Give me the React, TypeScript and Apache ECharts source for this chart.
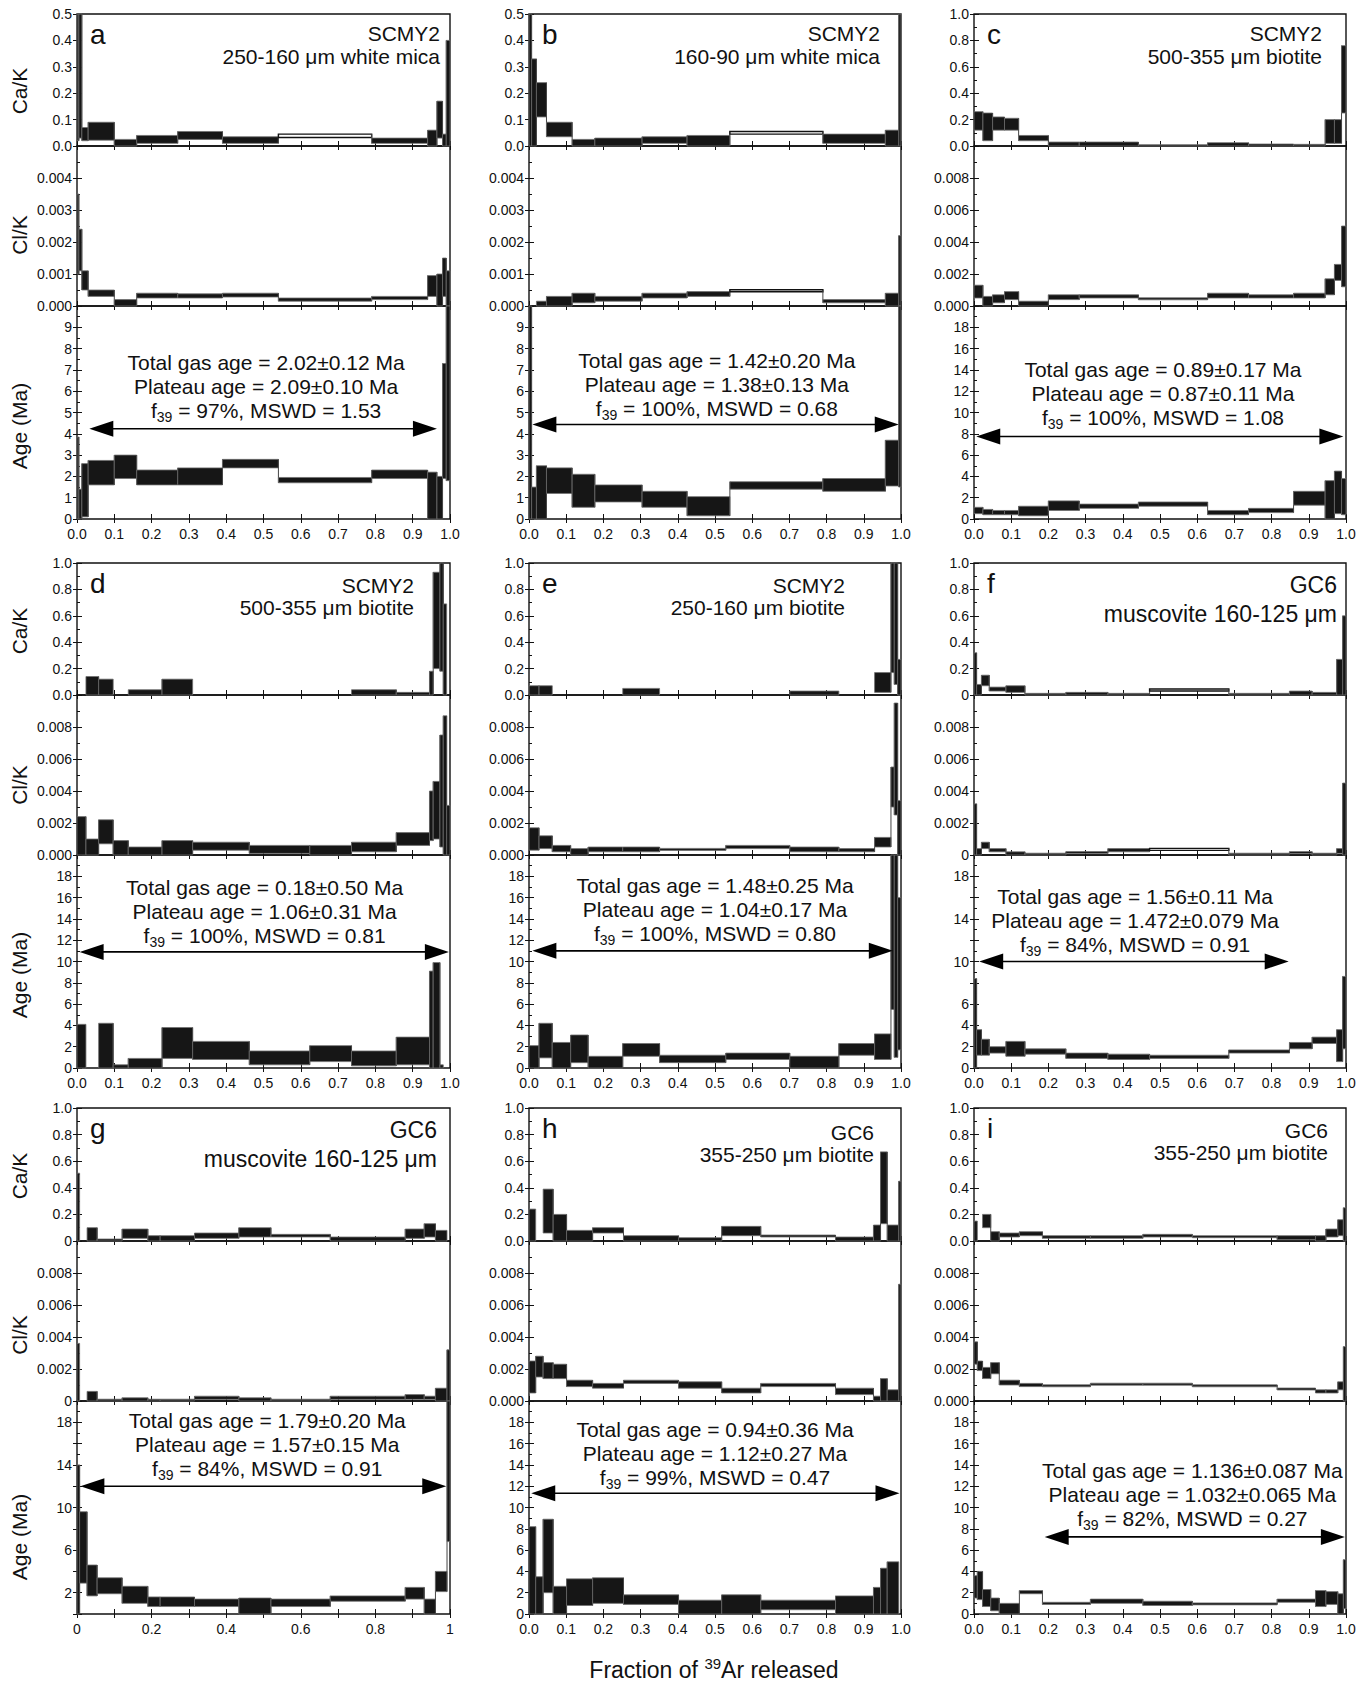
import React, { useEffect, useRef } from "react";
import * as echarts from "echarts";

type Box = [number, number] | null;

const FONT = "'Liberation Sans', Arial, Helvetica, sans-serif";

// ---------- Panel a ----------
const aFrac = [0, 0.005, 0.013, 0.03, 0.1, 0.16, 0.27, 0.39, 0.54, 0.79, 0.94, 0.965, 0.98, 0.99, 1.0];
const aCaK: Box[] = [[0.02, 0.55], [0.03, 0.55], [0.02, 0.07], [0.022, 0.09], [0, 0.025], [0.01, 0.04], [0.025, 0.055], [0.01, 0.035], [0.032, 0.045], [0.01, 0.03], [0, 0.06], [0.03, 0.17], [0, 0.045], [0, 0.4]];
const aClK: Box[] = [[0.001, 0.0035], [0.0011, 0.0024], [0.0005, 0.0011], [0.0003, 0.0005], [0, 0.0002], [0.00025, 0.0004], [0.00025, 0.00038], [0.00028, 0.0004], [0.00015, 0.00025], [0.0002, 0.0003], [0.0003, 0.00095], [0, 0.001], [0.0003, 0.0015], [0, 0.0011]];
const aAge: Box[] = [[0, 3.85], [0, 1.4], [0.1, 2.6], [1.6, 2.75], [1.9, 3.0], [1.6, 2.3], [1.6, 2.4], [2.4, 2.8], [1.7, 1.95], [1.9, 2.3], [0, 2.2], [0, 2.0], [1.9, 7.3], [1.8, 10.5]];
const aPlateau = [0.033, 0.965, 4.24];
const aSample = ["SCMY2", "250-160 μm white mica"];
const aStats = ["Total gas age = 2.02±0.12 Ma", "Plateau age = 2.09±0.10 Ma", " = 97%, MSWD = 1.53"];

// ---------- Panel b ----------
const bFrac = [0, 0.007, 0.02, 0.047, 0.116, 0.177, 0.304, 0.425, 0.54, 0.79, 0.958, 0.994, 1.0];
const bCaK: Box[] = [[0, 0.55], [0, 0.33], [0.11, 0.24], [0.035, 0.09], [0, 0.025], [0, 0.03], [0.01, 0.035], [0, 0.04], [0.045, 0.055], [0.01, 0.045], [0, 0.06], [0, 0.55]];
const bClK: Box[] = [null, null, [0, 0.00015], [0, 0.0003], [0.0001, 0.0004], [0.00015, 0.0003], [0.00025, 0.0004], [0.0003, 0.00045], [0.00045, 0.0005], [0.0001, 0.0002], [0, 0.0004], [0, 0.0022]];
const bAge: Box[] = [[0, 10.5], [0, 1.5], [0, 2.5], [1.2, 2.4], [0.55, 2.1], [0.8, 1.6], [0.55, 1.3], [0.15, 1.05], [1.4, 1.75], [1.3, 1.9], [1.55, 3.7], [1.5, 10.5]];
const bPlateau = [0.009, 0.994, 4.44];
const bSample = ["SCMY2", "160-90 μm white mica"];
const bStats = ["Total gas age = 1.42±0.20 Ma", "Plateau age = 1.38±0.13 Ma", " = 100%, MSWD = 0.68"];

// ---------- Panel c ----------
const cFrac = [0, 0.024, 0.05, 0.082, 0.12, 0.2, 0.283, 0.442, 0.628, 0.738, 0.859, 0.944, 0.969, 0.988, 1.0];
const cCaK: Box[] = [[0.12, 0.26], [0.04, 0.25], [0.12, 0.22], [0.12, 0.21], [0.04, 0.08], [0, 0.03], [0, 0.03], [0, 0.005], [0, 0.025], [0, 0.015], [0, 0.01], [0.02, 0.2], [0.02, 0.2], [0.25, 0.76]];
const cClK: Box[] = [[0.0005, 0.0013], [0, 0.0006], [0.0002, 0.0007], [0.0004, 0.0009], [0, 0.0003], [0.0004, 0.0007], [0.0005, 0.0007], [0.0004, 0.0005], [0.0005, 0.0008], [0.0005, 0.0007], [0.0005, 0.0008], [0.0007, 0.0017], [0.0016, 0.0026], [0.0012, 0.005]];
const cAge: Box[] = [[0.5, 1.1], [0.4, 0.9], [0.4, 0.8], [0.4, 0.8], [0.3, 1.2], [0.8, 1.7], [1.0, 1.4], [1.2, 1.6], [0.4, 0.8], [0.6, 1.0], [1.3, 2.6], [0, 3.6], [0.5, 4.5], [0.4, 3.8]];
const cPlateau = [0.006, 0.993, 7.74];
const cSample = ["SCMY2", "500-355 μm biotite"];
const cStats = ["Total gas age = 0.89±0.17 Ma", "Plateau age = 0.87±0.11 Ma", " = 100%, MSWD = 1.08"];

// ---------- Panel d ----------
const dFrac = [0, 0.024, 0.058, 0.097, 0.1375, 0.228, 0.31, 0.462, 0.624, 0.736, 0.856, 0.945, 0.955, 0.973, 0.982, 0.991, 1.0];
const dCaK: Box[] = [null, [0, 0.14], [0, 0.12], null, [0, 0.04], [0, 0.12], null, null, null, [0, 0.04], [0, 0.02], [0, 0.18], [0.2, 0.93], [0.18, 1.05], [0, 0.69], null];
const dClK: Box[] = [[0, 0.0024], [0, 0.001], [0.0007, 0.0022], [0, 0.0009], [0, 0.0005], [0, 0.0009], [0.0003, 0.0008], [0.0001, 0.0006], [0, 0.0006], [0.0002, 0.0008], [0.0006, 0.0014], [0.0009, 0.004], [0.001, 0.0046], [0.0005, 0.0075], [0, 0.0087], [0, 0.0031]];
const dAge: Box[] = [[0, 4.1], null, [0, 4.2], [0, 0.3], [0, 0.9], [0.9, 3.8], [0.8, 2.5], [0.3, 1.6], [0.6, 2.1], [0.2, 1.6], [0.3, 2.9], [0, 9.1], [0, 9.9], [0, 0.3], null, null];
const dPlateau = [0.007, 0.997, 10.9];
const dSample = ["SCMY2", "500-355 μm biotite"];
const dStats = ["Total gas age = 0.18±0.50 Ma", "Plateau age = 1.06±0.31 Ma", " = 100%, MSWD = 0.81"];

// ---------- Panel e ----------
const eFrac = [0, 0.027, 0.0625, 0.112, 0.159, 0.252, 0.351, 0.529, 0.701, 0.833, 0.929, 0.973, 0.982, 0.991, 1.0];
const eCaK: Box[] = [[0, 0.07], [0, 0.07], null, null, null, [0, 0.05], null, null, [0, 0.03], null, [0.02, 0.17], [0.17, 1.05], [0.08, 1.05], [0, 0.27]];
const eClK: Box[] = [[0.0003, 0.0017], [0.0004, 0.0012], [0.0002, 0.0006], [0, 0.0004], [0.0002, 0.0005], [0.0002, 0.0005], [0.0003, 0.0004], [0.0004, 0.0006], [0.0002, 0.0005], [0.0002, 0.0004], [0.0005, 0.0011], [0.003, 0.0055], [0.0025, 0.0095], [0, 0.0034]];
const eAge: Box[] = [[0, 2.1], [0.95, 4.2], [0, 2.4], [0.5, 3.1], [0, 1.1], [1.1, 2.3], [0.5, 1.2], [0.8, 1.4], [0, 1.1], [1.2, 2.3], [0.8, 3.2], [5.5, 21], [1.0, 21], [1.7, 16]];
const ePlateau = [0.009, 0.978, 11.0];
const eSample = ["SCMY2", "250-160 μm biotite"];
const eStats = ["Total gas age = 1.48±0.25 Ma", "Plateau age = 1.04±0.17 Ma", " = 100%, MSWD = 0.80"];

// ---------- Panel f ----------
const fFrac = [0, 0.007, 0.02, 0.041, 0.086, 0.137, 0.247, 0.36, 0.472, 0.685, 0.848, 0.909, 0.975, 0.991, 1.0];
const fCaK: Box[] = [[0, 0.32], [0, 0.08], [0.07, 0.15], [0.03, 0.06], [0.02, 0.07], [0, 0.01], [0, 0.02], [0, 0.01], [0.03, 0.045], [0, 0.01], [0, 0.03], [0, 0.02], [0, 0.27], [0, 0.6]];
const fClK: Box[] = [[0, 0.0032], [0, 0.0004], [0.0004, 0.0008], [0.0002, 0.0004], [0, 0.0002], [0, 0.0001], [0.0001, 0.0002], [0.0002, 0.0004], [0.0003, 0.0004], [0, 0.0001], [0.0001, 0.0002], [0, 0.0001], [0.0001, 0.0004], [0, 0.0045]];
const fAge: Box[] = [[0, 8.4], [1.2, 3.6], [1.2, 2.7], [1.4, 2.0], [1.1, 2.5], [1.3, 1.8], [0.9, 1.4], [0.8, 1.3], [0.9, 1.2], [1.4, 1.7], [1.8, 2.4], [2.3, 2.9], [0.6, 3.6], [1.8, 8.6]];
const fPlateau = [0.014, 0.846, 10];
const fSample = ["GC6", "muscovite 160-125 μm"];
const fStats = ["Total gas age = 1.56±0.11 Ma", "Plateau age = 1.472±0.079 Ma", " = 84%, MSWD = 0.91"];

// ---------- Panel g ----------
const gFrac = [0, 0.007, 0.027, 0.054, 0.121, 0.19, 0.223, 0.315, 0.434, 0.52, 0.679, 0.88, 0.931, 0.961, 0.992, 1.0];
const gCaK: Box[] = [[0, 0.51], null, [0, 0.1], [0, 0.015], [0.02, 0.09], [0, 0.04], [0, 0.04], [0.02, 0.06], [0.03, 0.1], [0.03, 0.05], [0, 0.03], [0.02, 0.09], [0.03, 0.13], [0, 0.08], null];
const gClK: Box[] = [[0, 0.0036], null, [0, 0.0006], [0, 0.0001], [0, 0.0002], [0, 0.0001], [0, 0.0001], [0.0001, 0.0003], [0, 0.0002], [0, 0.0001], [0.0001, 0.0003], [0.0001, 0.0004], [0.0001, 0.0003], [0, 0.0008], [0, 0.0032]];
const gAge: Box[] = [[0, 14], [2.9, 9.6], [1.7, 4.6], [1.9, 3.4], [1.0, 2.6], [0.7, 1.6], [0.7, 1.6], [0.7, 1.4], [0, 1.5], [0.7, 1.4], [1.2, 1.7], [1.4, 2.5], [0, 1.4], [2.1, 4.0], [6.8, 21]];
const gPlateau = [0.009, 0.99, 12];
const gSample = ["GC6", "muscovite 160-125 μm"];
const gStats = ["Total gas age = 1.79±0.20 Ma", "Plateau age = 1.57±0.15 Ma", " = 84%, MSWD = 0.91"];

// ---------- Panel h ----------
const hFrac = [0, 0.018, 0.038, 0.065, 0.101, 0.171, 0.254, 0.402, 0.518, 0.623, 0.824, 0.926, 0.945, 0.963, 0.994, 1.0];
const hCaK: Box[] = [[0, 0.24], null, [0.06, 0.39], [0, 0.2], [0, 0.08], [0.06, 0.1], [0, 0.04], [0, 0.025], [0.04, 0.11], [0.03, 0.045], [0, 0.03], [0, 0.12], [0.13, 0.67], [0, 0.12], [0, 0.45]];
const hClK: Box[] = [[0.0005, 0.0025], [0.0015, 0.0028], [0.0014, 0.0024], [0.0014, 0.0023], [0.0009, 0.0013], [0.0008, 0.0011], [0.0011, 0.0013], [0.0008, 0.0012], [0.0005, 0.0008], [0.0009, 0.0011], [0.0004, 0.0008], [0, 0.0003], [0, 0.0014], [0, 0.0007], [0, 0.0073]];
const hAge: Box[] = [[0, 8.2], [0, 3.5], [2.0, 8.9], [0, 2.6], [0.8, 3.3], [1.0, 3.4], [0.9, 1.8], [0, 1.3], [0, 1.8], [0.4, 1.3], [0, 1.7], [0, 2.5], [0, 4.3], [0, 4.9], null];
const hPlateau = [0.006, 0.996, 11.34];
const hSample = ["GC6", "355-250 μm biotite"];
const hStats = ["Total gas age = 0.94±0.36 Ma", "Plateau age = 1.12±0.27 Ma", " = 99%, MSWD = 0.47"];

// ---------- Panel i ----------
const iFrac = [0, 0.009, 0.023, 0.045, 0.068, 0.122, 0.184, 0.313, 0.454, 0.587, 0.815, 0.918, 0.946, 0.978, 0.993, 1.0];
const iCaK: Box[] = [[0, 0.15], null, [0.1, 0.2], [0, 0.07], [0.03, 0.06], [0.04, 0.07], [0.02, 0.04], [0.02, 0.04], [0.03, 0.05], [0.03, 0.035], [0.01, 0.04], [0, 0.04], [0.03, 0.09], [0.04, 0.16], [0, 0.25]];
const iClK: Box[] = [[0.0023, 0.0037], [0.0019, 0.0025], [0.0014, 0.0021], [0.0017, 0.0024], [0.001, 0.0013], [0.0009, 0.0011], [0.0009, 0.001], [0.001, 0.0011], [0.001, 0.0011], [0.0009, 0.001], [0.0007, 0.0008], [0.0005, 0.0007], [0.0005, 0.0007], [0.0007, 0.0012], [0, 0.0034]];
const iAge: Box[] = [[1.5, 3.6], [1.35, 4.0], [0.7, 2.3], [0.3, 1.5], [0, 1.0], [1.9, 2.2], [0.9, 1.1], [1.0, 1.4], [0.8, 1.2], [0.9, 1.0], [1.1, 1.4], [0.7, 2.2], [0.9, 2.1], [0, 1.9], [0.5, 5.1]];
const iPlateau = [0.19, 0.997, 7.24];
const iSample = ["GC6", "355-250 μm biotite"];
const iStats = ["Total gas age = 1.136±0.087 Ma", "Plateau age = 1.032±0.065 Ma", " = 82%, MSWD = 0.27"];

// ---------- axis specs ----------
const EPS = 1e-9;
const CAK05 = { max: 0.5, step: 0.1, fmt: (v: number) => v.toFixed(1) };
const CAK1 = { max: 1, step: 0.2, fmt: (v: number) => v.toFixed(1) };
const CAK1z = { max: 1, step: 0.2, fmt: (v: number) => (v < EPS ? "0" : v.toFixed(1)) };
const CLK005 = { max: 0.005, step: 0.001, fmt: (v: number) => (v > 0.005 - EPS ? "" : v.toFixed(3)) };
const CLK01 = { max: 0.01, step: 0.002, fmt: (v: number) => (v > 0.01 - EPS ? "" : v.toFixed(3)) };
const CLK01z = { max: 0.01, step: 0.002, fmt: (v: number) => (v > 0.01 - EPS ? "" : v < EPS ? "0" : v.toFixed(3)) };
const AGE10 = { max: 10, step: 1, fmt: (v: number) => (v > 9.5 ? "" : String(Math.round(v))) };
const AGE20 = { max: 20, step: 2, fmt: (v: number) => (v > 19 ? "" : String(Math.round(v))) };
const AGEf = { max: 20, step: 2, fmt: (v: number) => ([0, 2, 4, 6, 10, 14, 18].includes(Math.round(v)) ? String(Math.round(v)) : "") };
const AGEg = { max: 20, step: 2, fmt: (v: number) => ([2, 6, 10, 14, 18].includes(Math.round(v)) ? String(Math.round(v)) : "") };
const fmtX = (v: number) => v.toFixed(1);
const fmtXg = (v: number) => {
  const r = Math.round(v * 10);
  if (r % 2) return "";
  if (r === 0) return "0";
  if (r === 10) return "1";
  return (r / 10).toFixed(1);
};

// ---------- layout ----------
const COLS = [[77, 450], [529, 901], [974, 1346]];
const ROWS = [[14, 146, 306, 519], [563, 695, 855, 1068], [1108, 1241, 1401, 1614]];
const NAME_Y = [[91, 235, 426], [631, 785, 975], [1176, 1335, 1537]];

const PANELS = [
  { key: "a", row: 0, col: 0, frac: aFrac, cak: aCaK, clk: aClK, age: aAge, plateau: aPlateau, sample: aSample, stats: aStats, cakOpen: [8], clkOpen: [], cakAx: CAK05, clkAx: CLK005, ageAx: AGE10, xFmt: fmtX, inset: 10, sdy: [19, 42], sfs: 21, sx: 0.507, sdy0: 56 },
  { key: "b", row: 0, col: 1, frac: bFrac, cak: bCaK, clk: bClK, age: bAge, plateau: bPlateau, sample: bSample, stats: bStats, cakOpen: [8], clkOpen: [8], cakAx: CAK05, clkAx: CLK005, ageAx: AGE10, xFmt: fmtX, inset: 21, sdy: [19, 42], sfs: 21, sx: 0.505, sdy0: 54 },
  { key: "c", row: 0, col: 2, frac: cFrac, cak: cCaK, clk: cClK, age: cAge, plateau: cPlateau, sample: cSample, stats: cStats, cakOpen: [], clkOpen: [], cakAx: CAK1, clkAx: CLK01, ageAx: AGE20, xFmt: fmtX, inset: 24, sdy: [19, 42], sfs: 21, sx: 0.508, sdy0: 63 },
  { key: "d", row: 1, col: 0, frac: dFrac, cak: dCaK, clk: dClK, age: dAge, plateau: dPlateau, sample: dSample, stats: dStats, cakOpen: [], clkOpen: [], cakAx: CAK1, clkAx: CLK01, ageAx: AGE20, xFmt: fmtX, inset: 36, sdy: [22, 44], sfs: 21, sx: 0.503, sdy0: 32 },
  { key: "e", row: 1, col: 1, frac: eFrac, cak: eCaK, clk: eClK, age: eAge, plateau: ePlateau, sample: eSample, stats: eStats, cakOpen: [], clkOpen: [], cakAx: CAK1, clkAx: CLK01, ageAx: AGE20, xFmt: fmtX, inset: 56, sdy: [22, 44], sfs: 21, sx: 0.5, sdy0: 30 },
  { key: "f", row: 1, col: 2, frac: fFrac, cak: fCaK, clk: fClK, age: fAge, plateau: fPlateau, sample: fSample, stats: fStats, cakOpen: [8], clkOpen: [8], cakAx: CAK1z, clkAx: CLK01z, ageAx: AGEf, xFmt: fmtX, inset: 9, sdy: [22, 51], sfs: 23, sx: 0.433, sdy0: 41 },
  { key: "g", row: 2, col: 0, frac: gFrac, cak: gCaK, clk: gClK, age: gAge, plateau: gPlateau, sample: gSample, stats: gStats, cakOpen: [], clkOpen: [], cakAx: CAK1z, clkAx: CLK01z, ageAx: AGEg, xFmt: fmtXg, inset: 13, sdy: [22, 51], sfs: 23, sx: 0.51, sdy0: 19 },
  { key: "h", row: 2, col: 1, frac: hFrac, cak: hCaK, clk: hClK, age: hAge, plateau: hPlateau, sample: hSample, stats: hStats, cakOpen: [], clkOpen: [], cakAx: CAK1, clkAx: CLK01, ageAx: AGE20, xFmt: fmtX, inset: 27, sdy: [24, 46], sfs: 21, sx: 0.5, sdy0: 28 },
  { key: "i", row: 2, col: 2, frac: iFrac, cak: iCaK, clk: iClK, age: iAge, plateau: iPlateau, sample: iSample, stats: iStats, cakOpen: [], clkOpen: [], cakAx: CAK1, clkAx: CLK01, ageAx: AGE20, xFmt: fmtX, inset: 18, sdy: [22, 44], sfs: 21, sx: 0.587, sdy0: 69 },
];

const tickStyle = { color: "#111", width: 1 };
const LABEL_SIZE = 14;

function makeBoxSeries(axisIndex: number, frac: number[], vals: Box[], openIdx: number[]) {
  const items: any[] = [];
  vals.forEach((v, i) => {
    if (!v) return;
    const pv = i > 0 ? vals[i - 1] : null;
    items.push({ x0: frac[i], x1: frac[i + 1], lo: v[0], hi: v[1], open: openIdx.includes(i), plo: pv ? pv[0] : null, phi: pv ? pv[1] : null });
  });
  return {
    type: "custom",
    xAxisIndex: axisIndex,
    yAxisIndex: axisIndex,
    silent: true,
    z: 2,
    data: items.map((it) => [it.x0, it.x1, it.lo, it.hi]),
    encode: { x: [0, 1], y: [2, 3] },
    renderItem: (params: any, api: any) => {
      const it = items[params.dataIndex];
      const cs = params.coordSys;
      const tl = api.coord([api.value(0), api.value(3)]);
      const br = api.coord([api.value(1), api.value(2)]);
      const rect = { x: tl[0], y: tl[1], width: br[0] - tl[0], height: br[1] - tl[1] };
      if (rect.height < 2) {
        rect.y -= (2 - rect.height) / 2;
        rect.height = 2;
      }
      const clipped = echarts.graphic.clipRectByRect(rect, { x: cs.x, y: cs.y, width: cs.width, height: cs.height });
      const children: any[] = [];
      if (it.plo !== null) {
        const a = api.coord([it.x0, Math.min(it.lo, it.plo)]);
        const b = api.coord([it.x0, Math.max(it.hi, it.phi)]);
        const y1 = Math.min(Math.max(b[1], cs.y), cs.y + cs.height);
        const y2 = Math.min(Math.max(a[1], cs.y), cs.y + cs.height);
        children.push({ type: "line", shape: { x1: a[0], y1, x2: a[0], y2 }, style: { stroke: "#444", lineWidth: 1 } });
      }
      if (clipped) {
        children.push({
          type: "rect",
          shape: clipped,
          style: it.open ? { fill: "#ffffff", stroke: "#111", lineWidth: 1.4 } : { fill: "#161616", stroke: "#6e6e6e", lineWidth: 0.8 },
        });
      }
      return { type: "group", children };
    },
  };
}

function makeArrowSeries(axisIndex: number, pl: number[]) {
  return {
    type: "custom",
    xAxisIndex: axisIndex,
    yAxisIndex: axisIndex,
    silent: true,
    z: 3,
    data: [pl],
    encode: { x: [0, 1], y: [2] },
    renderItem: (params: any, api: any) => {
      const a = api.coord([api.value(0), api.value(2)]);
      const b = api.coord([api.value(1), api.value(2)]);
      const L = 24;
      const H = 8;
      return {
        type: "group",
        children: [
          { type: "line", shape: { x1: a[0] + L - 1, y1: a[1], x2: b[0] - L + 1, y2: b[1] }, style: { stroke: "#000", lineWidth: 1.6 } },
          { type: "polygon", shape: { points: [[a[0], a[1]], [a[0] + L, a[1] - H], [a[0] + L, a[1] + H]] }, style: { fill: "#000" } },
          { type: "polygon", shape: { points: [[b[0], b[1]], [b[0] - L, b[1] - H], [b[0] - L, b[1] + H]] }, style: { fill: "#000" } },
        ],
      };
    },
  };
}

function textEl(x: number, y: number, text: string, size: number, align: string, extra: any = {}) {
  return {
    type: "text",
    x,
    y,
    silent: true,
    z: 10,
    ...extra.el,
    style: {
      text,
      fontSize: size,
      fontFamily: FONT,
      fill: "#111",
      align,
      verticalAlign: "middle",
      textAlign: align,
      textVerticalAlign: "middle",
      ...(extra.style || {}),
    },
  };
}

function buildOption() {
  const grids: any[] = [];
  const xAxes: any[] = [];
  const yAxes: any[] = [];
  const series: any[] = [];
  const graphics: any[] = [];

  PANELS.forEach((p) => {
    const [L, R] = COLS[p.col];
    const [T, B1, B2, B] = ROWS[p.row];
    const subs = [
      { top: T, bot: B1, vals: p.cak, open: p.cakOpen, ax: p.cakAx, isAge: false },
      { top: B1, bot: B2, vals: p.clk, open: p.clkOpen, ax: p.clkAx, isAge: false },
      { top: B2, bot: B, vals: p.age, open: [], ax: p.ageAx, isAge: true },
    ];
    subs.forEach((s) => {
      const gi = grids.length;
      grids.push({
        left: L,
        top: s.top,
        width: R - L,
        height: s.bot - s.top,
        show: true,
        borderColor: "#111",
        borderWidth: 1.4,
        backgroundColor: "transparent",
        outerBoundsMode: "none",
      });
      xAxes.push({
        type: "value",
        gridIndex: gi,
        position: "bottom",
        min: 0,
        max: 1,
        interval: 0.1,
        axisLine: { show: false },
        splitLine: { show: false },
        axisTick: { show: true, inside: true, length: 5, lineStyle: tickStyle },
        axisLabel: { show: s.isAge, formatter: p.xFmt, fontSize: LABEL_SIZE, fontFamily: FONT, color: "#111", margin: 8, hideOverlap: false, showMinLabel: true, showMaxLabel: true },
      });
      xAxes.push({
        type: "value",
        gridIndex: gi,
        position: "top",
        min: 0,
        max: 1,
        interval: 0.1,
        axisLine: { show: false },
        splitLine: { show: false },
        axisTick: { show: true, inside: true, length: 4, lineStyle: tickStyle },
        axisLabel: { show: false },
      });
      yAxes.push({
        type: "value",
        gridIndex: gi,
        position: "left",
        min: 0,
        max: s.ax.max,
        interval: s.ax.step,
        axisLine: { show: false },
        splitLine: { show: false },
        axisTick: { show: true, inside: true, length: 5, lineStyle: tickStyle },
        minorTick: { show: true, splitNumber: 2, length: 3, lineStyle: tickStyle },
        axisLabel: { formatter: s.ax.fmt, fontSize: LABEL_SIZE, fontFamily: FONT, color: "#111", margin: 5, hideOverlap: false, showMinLabel: true, showMaxLabel: true },
      });
      yAxes.push({
        type: "value",
        gridIndex: gi,
        position: "right",
        min: 0,
        max: s.ax.max,
        interval: s.ax.step,
        axisLine: { show: false },
        splitLine: { show: false },
        axisTick: { show: true, inside: true, length: 4, lineStyle: tickStyle },
        axisLabel: { show: false },
      });
      series.push(makeBoxSeries(2 * gi, p.frac, s.vals, s.open));
      if (s.isAge) series.push(makeArrowSeries(2 * gi, p.plateau));
    });

    // panel letter
    graphics.push(textEl(L + 13, T + 20, p.key, 28, "left"));
    // sample lines
    graphics.push(textEl(R - p.inset, T + p.sdy[0], p.sample[0], p.sfs, "right"));
    graphics.push(textEl(R - p.inset, T + p.sdy[1], p.sample[1], p.sfs, "right"));
    // stats
    const cx = L + p.sx * (R - L);
    const y0 = B2 + p.sdy0;
    graphics.push(textEl(cx, y0, p.stats[0], 21, "center"));
    graphics.push(textEl(cx, y0 + 24, p.stats[1], 21, "center"));
    graphics.push(
      textEl(cx, y0 + 48, "f{s|39}" + p.stats[2], 21, "center", {
        style: { rich: { s: { fontSize: 14, fontFamily: FONT, fill: "#111", padding: [14, 0, 0, 0] } } },
      })
    );
  });

  // y-axis names (left column)
  NAME_Y.forEach((ys) => {
    graphics.push(textEl(19, ys[0], "Ca/K", 21, "center", { el: { rotation: Math.PI / 2 } }));
    graphics.push(textEl(19, ys[1], "Cl/K", 21, "center", { el: { rotation: Math.PI / 2 } }));
    graphics.push(textEl(19, ys[2], "Age (Ma)", 21, "center", { el: { rotation: Math.PI / 2 } }));
  });

  // x title
  graphics.push(
    textEl(714, 1670, "Fraction of {p|39}Ar released", 23, "center", {
      style: { rich: { p: { fontSize: 15, fontFamily: FONT, fill: "#111", padding: [0, 0, 14, 0] } } },
    })
  );

  return {
    animation: false,
    backgroundColor: "#ffffff",
    grid: grids,
    xAxis: xAxes,
    yAxis: yAxes,
    series,
    graphic: graphics,
  };
}

export default function App() {
  const ref = useRef<HTMLDivElement>(null);
  useEffect(() => {
    if (!ref.current) return;
    const chart = echarts.init(ref.current, null, { renderer: "svg" });
    chart.setOption(buildOption() as any);
    return () => chart.dispose();
  }, []);
  return (
    <div
      ref={ref}
      style={{ position: "absolute", left: 0, top: 0, width: 1371, height: 1683, background: "#ffffff" }}
    />
  );
}
